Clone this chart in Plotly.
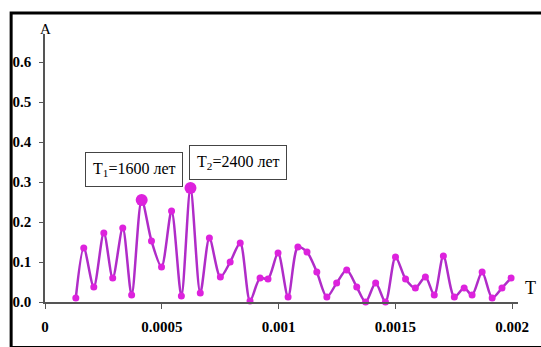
import plotly.graph_objects as go

# Data
periods = [0.000132, 0.000166, 0.000209, 0.000252, 0.000290, 0.000333, 0.000371, 0.000414,
           0.000456, 0.000499, 0.000542, 0.000584, 0.000623, 0.000665, 0.000704, 0.000751,
           0.000793, 0.000836, 0.000878, 0.000921, 0.000955, 0.000998, 0.001041, 0.001083,
           0.001122, 0.001164, 0.001207, 0.001249, 0.001292, 0.001335, 0.001373, 0.001416,
           0.001458, 0.001501, 0.001544, 0.001586, 0.001629, 0.001667, 0.001706, 0.001753,
           0.001795, 0.001829, 0.001872, 0.001915, 0.001957, 0.001996]
amplitudes = [0.010, 0.135, 0.0375, 0.1725, 0.060, 0.185, 0.0175, 0.255,
              0.1525, 0.0875, 0.2275, 0.015, 0.285, 0.0225, 0.160, 0.0625,
              0.100, 0.1475, 0.0025, 0.060, 0.0575, 0.1225, 0.0125, 0.1375,
              0.125, 0.075, 0.0125, 0.0475, 0.080, 0.0375, 0.000, 0.0475,
              0.000, 0.1125, 0.0575, 0.035, 0.0625, 0.0175, 0.115, 0.0125,
              0.035, 0.0175, 0.075, 0.010, 0.035, 0.060]

peak_x = [0.000414, 0.000623]
peak_y = [0.255, 0.285]
peak_labels = ["T<sub>1</sub>=1600 лет", "T<sub>2</sub>=2400 лет"]
label_x = [0.000382, 0.000827]
label_y = [0.331, 0.349]

x_ticks = [0, 0.0005, 0.001, 0.0015, 0.002]
x_tick_text = ["0", "0.0005", "0.001", "0.0015", "0.002"]
y_ticks = [0.0, 0.1, 0.2, 0.3, 0.4, 0.5, 0.6]
y_tick_text = ["0.0", "0.1", "0.2", "0.3", "0.4", "0.5", "0.6"]

SERIF = "Liberation Serif, Times New Roman, DejaVu Serif, serif"

fig = go.Figure()
fig.add_trace(go.Scatter(
    x=periods, y=amplitudes, mode="lines+markers",
    line=dict(color="#b02cc8", width=2.5, shape="spline", smoothing=0.8),
    marker=dict(color="#dd22dd", size=7),
    cliponaxis=False, showlegend=False, hoverinfo="skip"))
fig.add_trace(go.Scatter(
    x=peak_x, y=peak_y, mode="markers",
    marker=dict(color="#dd22dd", size=12),
    cliponaxis=False, showlegend=False, hoverinfo="skip"))

for lx, ly, txt in zip(label_x, label_y, peak_labels):
    fig.add_annotation(x=lx, y=ly, xref="x", yref="y", text=txt, showarrow=False,
                       xanchor="center", yanchor="middle",
                       font=dict(family=SERIF, size=16, color="black"),
                       bgcolor="white", bordercolor="#444444", borderwidth=1, borderpad=7)

fig.add_annotation(x=0.0, y=1.019, xref="paper", yref="paper", text="A", showarrow=False,
                   xanchor="center", yanchor="middle",
                   font=dict(family=SERIF, size=15, color="black"))
fig.add_annotation(x=1.027, y=0.052, xref="paper", yref="paper", text="T", showarrow=False,
                   xanchor="center", yanchor="middle",
                   font=dict(family=SERIF, size=18, color="black"))

# outer frame (top and left edges visible in the reference)
fig.add_shape(type="rect", xref="paper", yref="paper", layer="above",
              x0=-0.0716, x1=1.06, y0=-0.17, y1=1.078,
              line=dict(color="black", width=3), fillcolor="rgba(0,0,0,0)")

tick_font = dict(family=SERIF, size=15, color="black", weight="bold")
fig.update_xaxes(range=[0, 0.0020256], tickvals=x_ticks, ticktext=x_tick_text,
                 showgrid=False, zeroline=False, showline=True, linecolor="#555555", linewidth=1.5,
                 ticks="outside", ticklen=5, tickcolor="#555555", tickfont=tick_font,
                 ticklabelstandoff=5)
fig.update_yaxes(range=[0, 0.67], tickvals=y_ticks, ticktext=y_tick_text,
                 showgrid=False, zeroline=False, showline=True, linecolor="#555555", linewidth=1.5,
                 ticks="outside", ticklen=4, tickcolor="#555555", tickfont=tick_font,
                 ticklabelstandoff=5)

fig.update_layout(width=541, height=347, margin=dict(l=45, r=21, t=34, b=45),
                  plot_bgcolor="white", paper_bgcolor="white")

fig.write_html("out.html", config={"displayModeBar": False},
               post_script="document.body.style.margin='0';")
